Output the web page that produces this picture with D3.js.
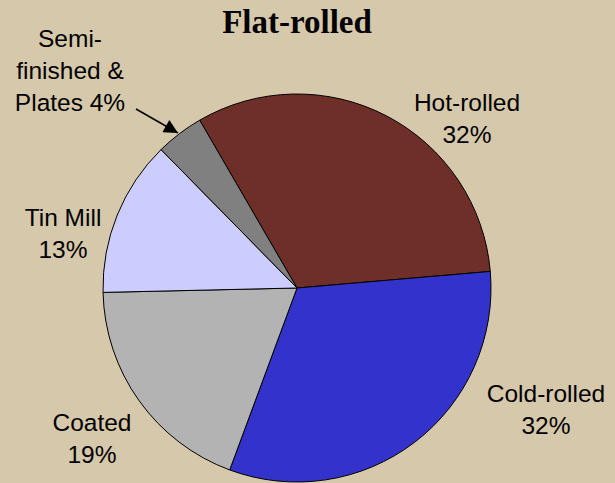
<!DOCTYPE html>
<html>
<head>
<meta charset="utf-8">
<script src="https://cdn.jsdelivr.net/npm/d3@7"></script>
<style>
  html, body { margin: 0; padding: 0; background: #d6c8aa; }
  svg { display: block; }
</style>
</head>
<body>
<svg id="chart" width="615" height="483"></svg>
<script>
const categories = ["Hot-rolled", "Cold-rolled", "Coated", "Tin Mill", "Semi-finished & Plates"];
const values = [32, 32, 19, 13, 4];
const colors = ["#6e2f28", "#3333cc", "#b3b3b3", "#ccccff", "#808080"];
const labelLines = [
  ["Hot-rolled", "32%"],
  ["Cold-rolled", "32%"],
  ["Coated", "19%"],
  ["Tin Mill", "13%"],
  ["Semi-", "finished &", "Plates 4%"]
];
const title = "Flat-rolled";

const W = 615, H = 483;
const svg = d3.select("#chart");
svg.append("rect").attr("width", W).attr("height", H).attr("fill", "#d6c8aa");

const cx = 297, cy = 288, R = 194;
const start = -30.1 * Math.PI / 180;
const pie = d3.pie().sort(null).value(d => d).startAngle(start).endAngle(start + 2 * Math.PI);
const arcs = pie(values);
const arc = d3.arc().innerRadius(0).outerRadius(R);

const g = svg.append("g").attr("transform", `translate(${cx},${cy})`);
g.selectAll("path").data(arcs).join("path")
  .attr("d", arc)
  .attr("fill", (d, i) => colors[i])
  .attr("stroke", "#000")
  .attr("stroke-width", 1)
  .attr("stroke-linejoin", "round");

// Title
svg.append("text")
  .attr("x", 297).attr("y", 33)
  .attr("text-anchor", "middle")
  .attr("font-family", "'Liberation Serif', 'Times New Roman', serif")
  .attr("font-weight", "bold")
  .attr("font-size", 33)
  .attr("fill", "#000")
  .text(title);

// Label positions (center x, first baseline y) in page coords
const labelPos = [
  [467, 111],
  [546, 402],
  [92, 431],
  [63, 226],
  [70, 47]
];
const lineH = 32;
labelLines.forEach((lines, i) => {
  const t = svg.append("text")
    .attr("text-anchor", "middle")
    .attr("font-family", "'Liberation Sans', Arial, sans-serif")
    .attr("font-size", 24.5)
    .attr("fill", "#000");
  lines.forEach((ln, j) => {
    t.append("tspan").attr("x", labelPos[i][0]).attr("y", labelPos[i][1] + j * lineH).text(ln);
  });
});

// Leader arrow for Semi-finished
const defs = svg.append("defs");
defs.append("marker")
  .attr("id", "ah").attr("viewBox", "0 0 10 10")
  .attr("refX", 10).attr("refY", 5)
  .attr("markerUnits", "userSpaceOnUse")
  .attr("markerWidth", 17).attr("markerHeight", 14)
  .attr("orient", "auto")
  .append("path").attr("d", "M0,0 L10,5 L0,10 Z").attr("fill", "#000");
svg.append("line")
  .attr("x1", 136).attr("y1", 109)
  .attr("x2", 178).attr("y2", 133)
  .attr("stroke", "#000").attr("stroke-width", 1.5)
  .attr("marker-end", "url(#ah)");
</script>
</body>
</html>
